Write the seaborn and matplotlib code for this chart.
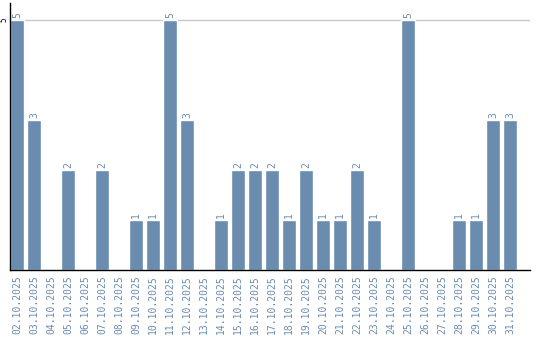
import matplotlib
matplotlib.use("Agg")
import matplotlib.pyplot as plt
import seaborn as sns
import pandas as pd

dates = ["02.10.2025", "03.10.2025", "04.10.2025", "05.10.2025", "06.10.2025",
         "07.10.2025", "08.10.2025", "09.10.2025", "10.10.2025", "11.10.2025",
         "12.10.2025", "13.10.2025", "14.10.2025", "15.10.2025", "16.10.2025",
         "17.10.2025", "18.10.2025", "19.10.2025", "20.10.2025", "21.10.2025",
         "22.10.2025", "23.10.2025", "24.10.2025", "25.10.2025", "26.10.2025",
         "27.10.2025", "28.10.2025", "29.10.2025", "30.10.2025", "31.10.2025"]
counts = [5, 3, 0, 2, 0, 2, 0, 1, 1, 5, 3, 0, 1, 2, 2, 2, 1, 2, 1, 1, 2, 1, 0, 5, 0, 0, 1, 1, 3, 3]

BAR = "#6a8caf"
sns.set_style("white")
plt.rcParams['font.family'] = ['DejaVu Sans Mono', 'DejaVu Sans']

df = pd.DataFrame({"date": dates, "count": counts})
fig = plt.figure(figsize=(5.4, 3.4), dpi=100)
ax = fig.add_axes([10/540, 70/340, 520/540, 267/340])
W = 0.82
sns.barplot(data=df, x="date", y="count", color=BAR, saturation=1, width=W, ax=ax, zorder=2)

ax.set_ylim(0, 5.34)
ax.set_xlim(-W / 2, -W / 2 + 520 / 17)
ax.set_yticks([5])
ax.set_yticklabels(["5"], rotation=90, va="center", fontsize=5.5, color="black")
ax.yaxis.grid(True, color="#c8c8c8", linewidth=1, zorder=0)
ax.set_axisbelow(True)
ax.tick_params(axis="y", length=0, pad=1)
ax.tick_params(axis="x", length=0, pad=4, labelsize=7, labelcolor=BAR)
plt.setp(ax.get_xticklabels(), rotation=90)
ax.set_xlabel("")
ax.set_ylabel("")
for s in ["top", "right"]:
    ax.spines[s].set_visible(False)
ax.spines["left"].set_color("black")
ax.spines["bottom"].set_color("black")
ax.spines["left"].set_linewidth(1)
ax.spines["bottom"].set_linewidth(1)

for i, v in enumerate(counts):
    if v > 0:
        ax.text(i, v + 0.03, str(v), rotation=90, ha="center", va="bottom",
                fontsize=7, color=BAR)

fig.savefig("out.png", dpi=100)
